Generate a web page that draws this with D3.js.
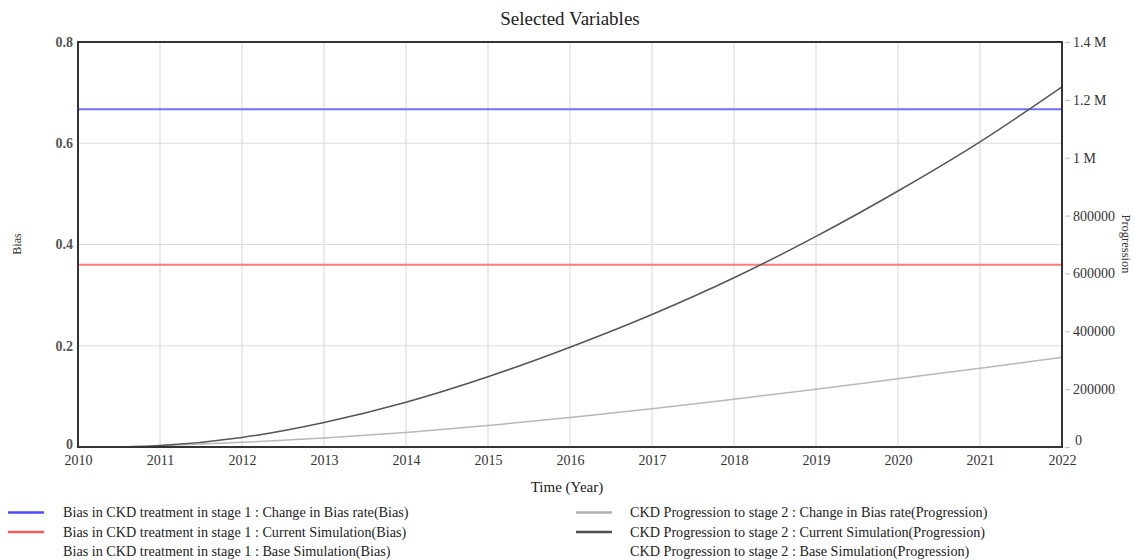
<!DOCTYPE html>
<html><head><meta charset="utf-8">
<script src="https://cdn.jsdelivr.net/npm/d3@7"></script>
<style>body{margin:0;background:#fff}svg{display:block}text{font-family:"Liberation Serif","DejaVu Serif","Times New Roman",Times,serif}</style>
</head><body><svg id="c" width="1134" height="560"></svg>
<script>
const years = [2010,2011,2012,2013,2014,2015,2016,2017,2018,2019,2020,2021,2022];
const biasChange = [0.667,0.667,0.667,0.667,0.667,0.667,0.667,0.667,0.667,0.667,0.667,0.667,0.667];
const biasCurrent = [0.36,0.36,0.36,0.36,0.36,0.36,0.36,0.36,0.36,0.36,0.36,0.36,0.36];
const progTimes = [2010,2010.5,2011,2012,2013,2014,2015,2016,2017,2018,2019,2020,2021,2022];
const progChange = [0,0,4000,16000,31000,50000,74000,102000,132000,165000,200000,236000,272000,310000];
const progCurrent = [0,0,5000,33000,85000,155000,243000,345000,458000,585000,728000,885000,1055000,1245000];
const leftTicks = [0,0.2,0.4,0.6,0.8];
const rightTicks = [0,200000,400000,600000,800000,1000000,1200000,1400000];
const rightLabels = ["0","200000","400000","600000","800000","1 M","1.2 M","1.4 M"];
const legendLeft = [
 {label:"Bias in CKD treatment in stage 1 : Change in Bias rate(Bias)", color:"#4a4aff"},
 {label:"Bias in CKD treatment in stage 1 : Current Simulation(Bias)", color:"#ff5a5a"},
 {label:"Bias in CKD treatment in stage 1 : Base Simulation(Bias)", color:null}];
const legendRight = [
 {label:"CKD Progression to stage 2 : Change in Bias rate(Progression)", color:"#b0b0b0"},
 {label:"CKD Progression to stage 2 : Current Simulation(Progression)", color:"#505050"},
 {label:"CKD Progression to stage 2 : Base Simulation(Progression)", color:null}];

const FONT = "'Liberation Serif','DejaVu Serif','Times New Roman',Times,serif";
const svg = d3.select("#c").attr("font-family",FONT);
const L=78, R=1062, T=42, B=447;
const x = d3.scaleLinear().domain([2010,2022]).range([L,R]);
const yL = d3.scaleLinear().domain([0,0.8]).range([B,T]);
const yR = d3.scaleLinear().domain([0,1400000]).range([B,T]);

// grid
svg.append("g").selectAll("line").data(years.slice(1,-1)).join("line")
 .attr("x1",d=>x(d)).attr("x2",d=>x(d)).attr("y1",T).attr("y2",B)
 .attr("stroke","#dcdcdc").attr("stroke-width",1.2);
svg.append("g").selectAll("line").data(leftTicks.slice(1,-1)).join("line")
 .attr("x1",L).attr("x2",R).attr("y1",d=>yL(d)).attr("y2",d=>yL(d))
 .attr("stroke","#dcdcdc").attr("stroke-width",1.2);

// lines
const lineL = d3.line().x((d,i)=>x(years[i])).y(d=>yL(d));
svg.append("path").attr("d",lineL(biasChange)).attr("fill","none").attr("stroke","#7070ff").attr("stroke-width",2);
svg.append("path").attr("d",lineL(biasCurrent)).attr("fill","none").attr("stroke","#ff7878").attr("stroke-width",2);
const lineR = d3.line().x((d,i)=>x(progTimes[i])).y(d=>yR(d)).curve(d3.curveMonotoneX);
svg.append("path").attr("d",lineR(progChange)).attr("fill","none").attr("stroke","#b8b8b8").attr("stroke-width",1.5);
svg.append("path").attr("d",lineR(progCurrent)).attr("fill","none").attr("stroke","#555").attr("stroke-width",1.5);

// frame
svg.append("rect").attr("x",L).attr("y",T).attr("width",R-L).attr("height",B-T)
 .attr("fill","none").attr("stroke","#333").attr("stroke-width",2);

// axes
const fmtL = d=> d===0?"0":d3.format(".1f")(d);
const gL = svg.append("g").attr("transform",`translate(${L},0)`)
 .call(d3.axisLeft(yL).tickValues(leftTicks).tickFormat(fmtL).tickSize(0).tickPadding(5));
const gR = svg.append("g").attr("transform",`translate(${R},0)`)
 .call(d3.axisRight(yR).tickValues(rightTicks).tickFormat((d,i)=>rightLabels[i]).tickSize(8).tickPadding(3));
const gX = svg.append("g").attr("transform",`translate(0,${B})`)
 .call(d3.axisBottom(x).tickValues(years).tickFormat(d3.format("d")).tickSize(0).tickPadding(8));
[gL,gR,gX].forEach(g=>{g.attr("font-family",FONT); g.select(".domain").remove();
 g.selectAll("text").attr("font-family",FONT).attr("font-size",14).attr("fill","#333");});
gL.selectAll("text").attr("font-weight","bold").attr("fill","#555");
gR.selectAll(".tick line").attr("stroke","#bbb").attr("x1",3).attr("x2",8);
gL.selectAll(".tick").filter(d=>d===0).select("text").attr("dy","0.1em");
gR.selectAll(".tick").filter(d=>d===0).select("text").attr("dy","-0.15em").attr("x",13);

// texts
svg.append("text").attr("x",570).attr("y",25).attr("text-anchor","middle").attr("font-size",19).attr("fill","#222").text("Selected Variables");
svg.append("text").attr("x",567).attr("y",492).attr("text-anchor","middle").attr("font-size",15).attr("fill","#222").text("Time (Year)");
svg.append("text").attr("transform","translate(21,244) rotate(-90)").attr("text-anchor","middle").attr("font-size",12).attr("fill","#333").text("Bias");
svg.append("text").attr("transform","translate(1122,244) rotate(90)").attr("text-anchor","middle").attr("font-size",12.5).attr("fill","#333").text("Progression");

// legend
function legend(items, lx, tx){
 const g = svg.append("g");
 items.forEach((it,i)=>{
  const y = 512.5 + i*19.5;
  if(it.color) g.append("line").attr("x1",lx).attr("x2",lx+36).attr("y1",y).attr("y2",y).attr("stroke",it.color).attr("stroke-width",2.5);
  g.append("text").attr("x",tx).attr("y",y+4.5).attr("font-size",14.2).attr("fill","#222").text(it.label);
 });
}
legend(legendLeft, 8, 63);
legend(legendRight, 576, 630);
</script></body></html>
